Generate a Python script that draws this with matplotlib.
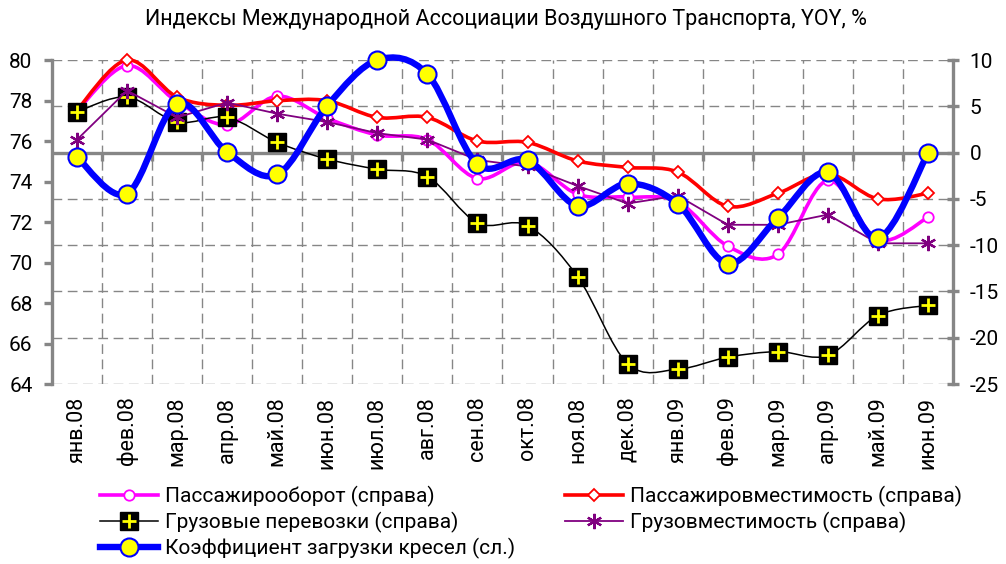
import numpy as np
import matplotlib
matplotlib.use("Agg")
import matplotlib.pyplot as plt
from matplotlib.path import Path
from matplotlib.patches import PathPatch
from matplotlib.lines import Line2D

plt.rcParams['font.family'] = ['Roboto', 'DejaVu Sans']

# ---------------- data ----------------
categories = ["янв.08", "фев.08", "мар.08", "апр.08", "май.08", "июн.08", "июл.08", "авг.08",
              "сен.08", "окт.08", "ноя.08", "дек.08", "янв.09", "фев.09", "мар.09", "апр.09",
              "май.09", "июн.09"]

pax_traffic = [4.5, 9.4, 5.5, 3.0, 6.1, 3.7, 1.9, 1.4, -2.8, -1.0, -4.5, -4.8, -5.3, -10.1,
               -11.0, -3.0, -9.4, -7.0]                      # Пассажирооборот (справа)
pax_capacity = [4.6, 10.0, 6.0, 5.1, 5.6, 5.6, 3.8, 3.8, 1.25, 1.1, -0.9, -1.6, -2.1, -5.8,
                -4.4, -2.3, -5.0, -4.4]                      # Пассажировместимость (справа)
freight = [4.4, 6.0, 3.3, 3.8, 1.1, -0.7, -1.8, -2.6, -7.6, -7.9, -13.4, -22.8, -23.4, -22.1,
           -21.5, -21.9, -17.6, -16.5]                        # Грузовые перевозки (справа)
freight_capacity = [1.4, 6.7, 3.8, 5.4, 4.2, 3.3, 2.1, 1.4, -0.8, -1.5, -3.6, -5.5, -4.65,
                    -7.8, -7.8, -6.7, -9.8, -9.8]             # Грузовместимость (справа)
load_factor = [75.2, 73.4, 77.85, 75.45, 74.35, 77.75, 80.0, 79.3, 74.85, 75.05, 72.8, 73.9,
               72.9, 69.95, 72.2, 74.45, 71.2, 75.4]          # Коэффициент загрузки кресел (сл.)

left_ticks = [64, 66, 68, 70, 72, 74, 76, 78, 80]
right_ticks = [-25, -20, -15, -10, -5, 0, 5, 10]

title = "Индексы Международной Ассоциации Воздушного Транспорта, YOY, %"
labels = ["Пассажирооборот (справа)", "Грузовые перевозки (справа)",
          "Коэффициент загрузки кресел (сл.)", "Пассажировместимость (справа)",
          "Грузовместимость (справа)"]

GRAY = "#868686"


def smooth_path(xs, ys):
    pts = np.column_stack([xs, ys]).astype(float)
    n = len(pts)
    verts = [pts[0]]
    codes = [Path.MOVETO]
    for i in range(n - 1):
        p0 = pts[i - 1] if i > 0 else pts[i]
        p1 = pts[i]
        p2 = pts[i + 1]
        p3 = pts[i + 2] if i + 2 < n else pts[i + 1]
        verts += [p1 + (p2 - p0) / 6.0, p2 - (p3 - p1) / 6.0, p2]
        codes += [Path.CURVE4] * 3
    return Path(verts, codes)


fig = plt.figure(figsize=(10.06, 5.64), dpi=100)
fig.patch.set_facecolor("white")
ax = fig.add_axes([0.0517, 0.3191, 0.8956, 0.5745])
ax2 = ax.twinx()
ax.set_zorder(ax2.get_zorder() + 1)
ax.patch.set_visible(False)
ax2.patch.set_facecolor("white")

x = np.arange(len(categories))

# limits
ax.set_xlim(-0.5, len(categories) - 0.5)
ax.set_ylim(left_ticks[0], left_ticks[-1])
ax2.set_ylim(right_ticks[0], right_ticks[-1])

# grid (right axis based)
for v in right_ticks:
    if v != 0:
        ax2.axhline(v, color=GRAY, lw=1.0, ls=(0, (7, 4)), zorder=0.5)
for b in np.arange(0.5, len(categories) - 1, 1.0):
    ax2.axvline(b, color=GRAY, lw=1.0, ls=(0, (7, 4)), zorder=0.5)

# zero line with tick marks
ax2.axhline(0, color=GRAY, lw=2.4, zorder=1)
bounds = np.arange(0.5, len(categories) - 1, 1.0)
ax2.plot(bounds, np.zeros_like(bounds), ls="none", marker=3, ms=6, mew=2.4, color=GRAY, zorder=1)

# right-axis series
for data, col, lw in [(pax_traffic, "#FF00FF", 2.6), (pax_capacity, "#FF0000", 2.6),
                      (freight, "black", 1.1)]:
    ax2.add_patch(PathPatch(smooth_path(x, data), fill=False, edgecolor=col, lw=lw,
                            clip_on=False, zorder=2))

ax2.plot(x, pax_traffic, ls="none", marker="o", ms=7.5, mfc="white", mec="#FF00FF", mew=1.3,
         clip_on=False, zorder=3)
ax2.plot(x, pax_capacity, ls="none", marker="D", ms=6.5, mfc="white", mec="#FF0000", mew=1.3,
         clip_on=False, zorder=3)
ax2.plot(x, freight, ls="none", marker="s", ms=12.5, mfc="black", mec="black",
         clip_on=False, zorder=4)
ax2.plot(x, freight, ls="none", marker="+", ms=10, mec="yellow", mew=2.0,
         clip_on=False, zorder=4.5)
ax2.plot(x, freight_capacity, color="#800080", lw=1.3, marker=(6, 2, 0), ms=11, mew=1.6,
         mec="#800080", clip_on=False, zorder=5)

# left-axis series
ax.add_patch(PathPatch(smooth_path(x, load_factor), fill=False, edgecolor="#0000FF", lw=4.6,
                       clip_on=False, zorder=2, capstyle="round", joinstyle="round"))
ax.plot(x, load_factor, ls="none", marker="o", ms=13, mfc="#FFFF00", mec="#0000FF", mew=1.5,
        clip_on=False, zorder=3)

# spines
for s in ["top", "bottom", "right"]:
    ax.spines[s].set_visible(False)
for s in ["top", "bottom", "left"]:
    ax2.spines[s].set_visible(False)
ax.spines["left"].set_color(GRAY)
ax.spines["left"].set_linewidth(2.4)
ax2.spines["right"].set_color(GRAY)
ax2.spines["right"].set_linewidth(2.4)

# ticks
ax.set_yticks(left_ticks)
ax.set_yticklabels([str(v) for v in left_ticks])
ax.tick_params(axis="y", direction="out", length=6, width=2.4, color=GRAY, labelsize=15, pad=8)
ax2.set_yticks(right_ticks)
ax2.set_yticklabels([str(v) for v in right_ticks])
ax2.tick_params(axis="y", direction="inout", length=8, width=2.4, color=GRAY, labelsize=15, pad=8)

ax.set_xticks(x)
ax.set_xticklabels(categories, rotation=90)
ax.tick_params(axis="x", length=0, labelsize=15.5, pad=9)
ax2.tick_params(axis="x", length=0, labelbottom=False)

fig.text(0.503, 0.965, title, ha="center", va="center", fontsize=15.5)

# legend
h_traffic = Line2D([], [], color="#FF00FF", lw=2.6, marker="o", ms=7.5, mfc="white",
                   mec="#FF00FF", mew=1.3)
h_capacity = Line2D([], [], color="#FF0000", lw=2.6, marker="D", ms=6.5, mfc="white",
                    mec="#FF0000", mew=1.3)
h_freight = (Line2D([], [], color="black", lw=1.1, marker="s", ms=12.5, mfc="black", mec="black"),
             Line2D([], [], ls="none", marker="+", ms=10, mec="yellow", mew=2.0))
h_fcap = Line2D([], [], color="#800080", lw=1.3, marker=(6, 2, 0), ms=11, mew=1.6, mec="#800080")
h_load = Line2D([], [], color="#0000FF", lw=4.6, marker="o", ms=13, mfc="#FFFF00",
                mec="#0000FF", mew=1.5)

common = dict(loc="upper left", frameon=False, fontsize=15, handlelength=2.8,
              handletextpad=0.33, labelspacing=0.22, borderpad=0, borderaxespad=0)
fig.legend([h_traffic, h_freight, h_load], labels[:3], bbox_to_anchor=(0.0994, 0.138), **common)
fig.legend([h_capacity, h_fcap], labels[3:], bbox_to_anchor=(0.5616, 0.138), **common)

fig.savefig("out.png", dpi=100, facecolor="white")
